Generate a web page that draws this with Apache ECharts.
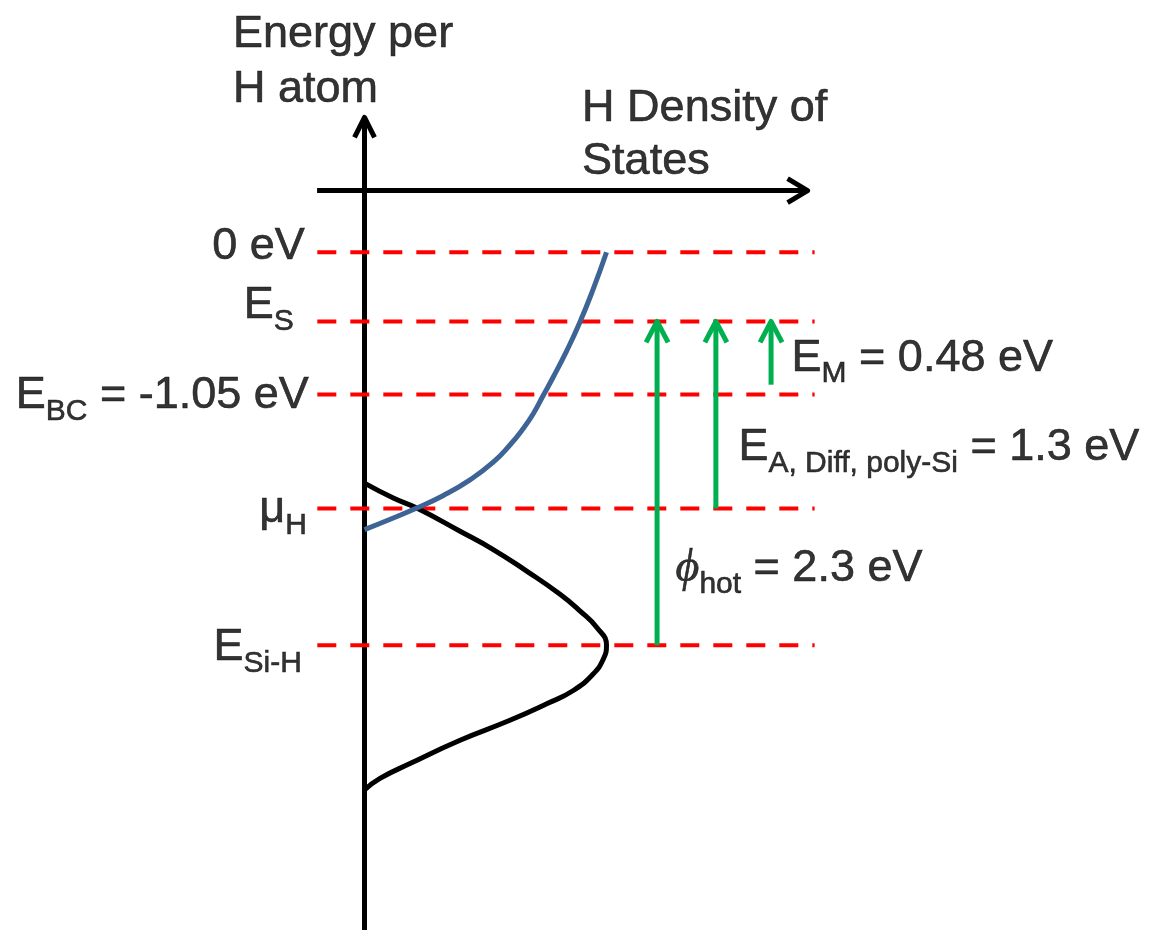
<!DOCTYPE html>
<html>
<head>
<meta charset="utf-8">
<script src="https://cdn.jsdelivr.net/npm/echarts@6/dist/echarts.min.js"></script>
<style>html,body{margin:0;padding:0;background:#fff}#chart{width:1165px;height:930px}</style>
</head>
<body>
<div id="chart"></div>
<script>
// ---------- DATA (x = H density of states, arbitrary units; y = energy per H atom, eV) ----------
const levelEnergy = [0, -0.51, -1.05, -1.89, -2.90];
const levelLabels = ['{m|0 eV}', '{m|E}{s|S}', '{m|E}{s|BC}{m| = -1.05 eV}', '{m|μ}{s|H}', '{m|E}{s|Si-H}'];
const levelSpan = [-0.195, 1.86];

const blueDOS = [[0, -2.046], [0.119, -1.960], [0.216, -1.887], [0.326, -1.794], [0.436, -1.679],
  [0.532, -1.549], [0.601, -1.422], [0.656, -1.300], [0.698, -1.189], [0.739, -1.055], [0.780, -0.920],
  [0.836, -0.725], [0.890, -0.516], [0.945, -0.272], [1.0, 0]];
const blackDOS = [[0, -1.703], [0.119, -1.813], [0.216, -1.887], [0.395, -2.058], [0.532, -2.193],
  [0.670, -2.352], [0.808, -2.523], [0.890, -2.645], [0.960, -2.768], [1.0, -2.90], [0.987, -3.001],
  [0.945, -3.111], [0.863, -3.233], [0.753, -3.331], [0.601, -3.453], [0.395, -3.600], [0.188, -3.772],
  [0.064, -3.882], [0, -3.967]];

const arrowX = [1.209, 1.452, 1.680];
const arrowFrom = [-2.90, -1.89, -0.977];
const arrowTo = [-0.51, -0.51, -0.51];
const arrowLabels = ['{phi|ϕ}{s|hot}{m| = 2.3 eV}', '{m|E}{s|A, Diff, poly-Si}{m| = 1.3 eV}', '{m|E}{s|M}{m| = 0.48 eV}'];
const arrowLabelE = [-2.335, -1.442, -0.781];

const axisTitles = ['Energy per\nH atom', 'H Density of\nStates'];
const vAxisSpan = [-5, 0.995];      // energy axis drawn at density 0
const hAxisSpan = [-0.196, 1.831];  // density axis drawn at energy hAxisE
const hAxisE = 0.455;

// ---------- LAYOUT / STYLE ----------
const X_MIN = -0.25, X_MAX = 1.9, Y_MIN = -5, Y_MAX = 1.1;
const PX_PER_X = 242, PX_PER_E = 136.2;
const GRID = { left: 364.5 + X_MIN * PX_PER_X, top: 253 - Y_MAX * PX_PER_E,
  width: (X_MAX - X_MIN) * PX_PER_X, height: (Y_MAX - Y_MIN) * PX_PER_E };
const levelLabelGap = [12, 23, 8, 10, 15];
const levelLabelDy = [-5.6, -15.6, 1.4, 1.5, 2];
const arrowLabelGap = [18, 22, 20];
const FONT = "'Liberation Sans', Arial, sans-serif";
const INK = { color: '#000', textBorderColor: '#000', textBorderWidth: 0.6 };
const RICH = {
  m: Object.assign({ fontSize: 45, fontFamily: FONT, verticalAlign: 'middle' }, INK),
  s: Object.assign({ fontSize: 30, fontFamily: FONT, verticalAlign: 'middle', padding: [32, 0, 0, 0] }, INK),
  phi: Object.assign({ fontSize: 46, fontFamily: "'Liberation Serif', 'DejaVu Serif', serif", fontStyle: 'italic', verticalAlign: 'middle' }, INK)
};
const dx = px => px / PX_PER_X;
const dy = px => px / PX_PER_E;

function lineSeries(data, color, width, z, extra) {
  return Object.assign({
    type: 'line', data: data, symbol: 'none', silent: true, z: z, clip: false,
    lineStyle: { color: color, width: width, cap: 'butt', join: 'round' }
  }, extra || {});
}

const series = [];
// axes (line + open chevron heads)
series.push(lineSeries([[0, vAxisSpan[0]], [0, vAxisSpan[1]]], '#000', 5, 2));
series.push(lineSeries([[-dx(10), vAxisSpan[1] - dy(20)], [0, vAxisSpan[1]], [dx(10), vAxisSpan[1] - dy(20)]], '#000', 5, 2));
series.push(lineSeries([[hAxisSpan[0], hAxisE], [hAxisSpan[1], hAxisE]], '#000', 5, 2));
series.push(lineSeries([[hAxisSpan[1] - dx(20), hAxisE + dy(12)], [hAxisSpan[1], hAxisE], [hAxisSpan[1] - dx(20), hAxisE - dy(12)]], '#000', 5, 2));
// dashed energy levels
levelEnergy.forEach(e => {
  series.push(lineSeries([[levelSpan[0], e], [levelSpan[1], e]], '#FF0000', 4, 3,
    { lineStyle: { color: '#FF0000', width: 4, type: [19, 14], cap: 'butt' } }));
});
// DOS curves
series.push(lineSeries(blackDOS, '#000', 5, 4, { smooth: 0.5 }));
series.push(lineSeries(blueDOS, '#3D6494', 5, 5, { smooth: 0.5 }));
// green transition arrows
arrowX.forEach((x, i) => {
  series.push(lineSeries([[x, arrowFrom[i]], [x, arrowTo[i]]], '#00B050', 5, 6));
  series.push(lineSeries([[x - dx(11), arrowTo[i] - dy(21)], [x, arrowTo[i]], [x + dx(11), arrowTo[i] - dy(21)]], '#00B050', 5, 6));
});
// text labels
const labelPoints = [];
levelEnergy.forEach((e, i) => {
  labelPoints.push({ value: [levelSpan[0], e], label: Object.assign({ show: true, position: 'left', distance: levelLabelGap[i],
    offset: [0, levelLabelDy[i]], formatter: levelLabels[i], rich: RICH }, INK) });
});
arrowX.forEach((x, i) => {
  labelPoints.push({ value: [x, arrowLabelE[i]], label: Object.assign({ show: true, position: 'right', distance: arrowLabelGap[i],
    formatter: arrowLabels[i], rich: RICH }, INK) });
});
labelPoints.push({ value: [0, vAxisSpan[1]], label: Object.assign({ show: true, position: [-131, -110], align: 'left', verticalAlign: 'top',
  formatter: axisTitles[0], fontSize: 45, lineHeight: 55, fontFamily: FONT }, INK) });
labelPoints.push({ value: [hAxisSpan[1], hAxisE], label: Object.assign({ show: true, position: [-225, -108], align: 'left', verticalAlign: 'top',
  formatter: axisTitles[1], fontSize: 45, lineHeight: 53, fontFamily: FONT }, INK) });
series.push({ type: 'scatter', data: labelPoints, symbolSize: 1, itemStyle: { color: 'rgba(0,0,0,0)' }, silent: true, z: 10 });

const chart = echarts.init(document.getElementById('chart'), null, { renderer: 'canvas' });
chart.setOption({
  animation: false,
  backgroundColor: '#fff',
  grid: GRID,
  xAxis: { type: 'value', min: X_MIN, max: X_MAX, show: false },
  yAxis: { type: 'value', min: Y_MIN, max: Y_MAX, show: false },
  series: series
});
</script>
</body>
</html>
